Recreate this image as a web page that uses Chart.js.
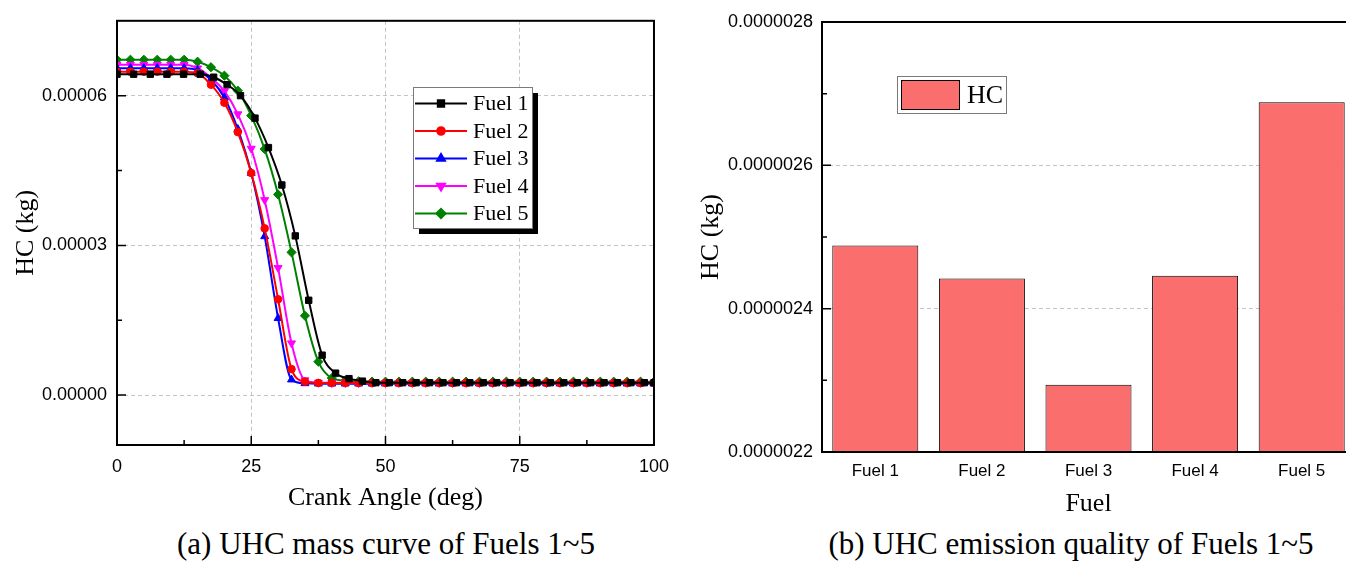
<!DOCTYPE html>
<html>
<head>
<meta charset="utf-8">
<script src="https://cdn.jsdelivr.net/npm/chart.js@4.4.1/dist/chart.umd.min.js"></script>
<style>
  html, body { margin: 0; padding: 0; background: #fff; overflow: hidden; }
  body { width: 1346px; height: 563px; position: relative; }
  .pie { position: absolute; top: 526px; font-family: "Liberation Serif", serif; font-size: 31px; color: #000; white-space: nowrap; transform: translateX(-50%); }
</style>
</head>
<body>
<canvas id="curvaHC" width="680" height="520" style="position:absolute;left:0;top:0"></canvas>
<canvas id="barrasHC" width="680" height="520" style="position:absolute;left:690px;top:0"></canvas>
<div class="pie" style="left:386px">(a) UHC mass curve of Fuels 1~5</div>
<div class="pie" style="left:1071px">(b) UHC emission quality of Fuels 1~5</div>

<script>
// Masa de HC (kg) vs angulo de cigueñal
var combustibles = ["Fuel 1", "Fuel 2", "Fuel 3", "Fuel 4", "Fuel 5"];

var angulo = [0, 2.5, 5, 7.5, 10, 12.5, 15, 17.5, 20, 22.5, 25, 27.5, 30, 32.5, 35, 37.5, 40, 42.5, 45, 47.5,
              50, 52.5, 55, 57.5, 60, 62.5, 65, 67.5, 70, 72.5, 75, 77.5, 80, 82.5, 85, 87.5, 90, 92.5, 95, 97.5, 100];
var anguloF1 = [0, 3.1, 6.2, 9.3, 12.4, 15.5, 18, 20.5, 23, 25.7, 28.2, 30.7, 33.2, 35.7, 38.2, 40.7, 43.2, 45.7,
                48.2, 50.7, 53.2, 55.7, 58.2, 60.7, 63.2, 65.7, 68.2, 70.7, 73.2, 75.7, 78.2, 80.7, 83.2, 85.7,
                88.2, 90.7, 93.2, 95.7, 98.2, 100];

var hcF1 = [6.43e-5, 6.43e-5, 6.43e-5, 6.43e-5, 6.43e-5, 6.43e-5, 6.37e-5, 6.22e-5, 6.00e-5, 5.55e-5, 4.96e-5,
            4.21e-5, 3.19e-5, 1.90e-5, 0.80e-5, 0.44e-5, 0.33e-5, 0.28e-5,
            2.49e-6, 2.49e-6, 2.49e-6, 2.49e-6, 2.49e-6, 2.49e-6, 2.49e-6, 2.49e-6, 2.49e-6, 2.49e-6, 2.49e-6,
            2.49e-6, 2.49e-6, 2.49e-6, 2.49e-6, 2.49e-6, 2.49e-6, 2.49e-6, 2.49e-6, 2.49e-6, 2.49e-6, 2.49e-6];
var hcF2 = [6.48e-5, 6.48e-5, 6.48e-5, 6.48e-5, 6.48e-5, 6.48e-5, 6.45e-5, 6.22e-5, 5.86e-5, 5.27e-5, 4.45e-5,
            3.34e-5, 1.92e-5, 0.52e-5, 0.27e-5,
            2.44e-6, 2.44e-6, 2.44e-6, 2.44e-6, 2.44e-6, 2.44e-6, 2.44e-6, 2.44e-6, 2.44e-6, 2.44e-6, 2.44e-6,
            2.44e-6, 2.44e-6, 2.44e-6, 2.44e-6, 2.44e-6, 2.44e-6, 2.44e-6, 2.44e-6, 2.44e-6, 2.44e-6, 2.44e-6,
            2.44e-6, 2.44e-6, 2.44e-6, 2.44e-6];
var hcF3 = [6.55e-5, 6.55e-5, 6.55e-5, 6.55e-5, 6.55e-5, 6.55e-5, 6.51e-5, 6.32e-5, 5.96e-5, 5.33e-5, 4.45e-5,
            3.18e-5, 1.54e-5, 0.31e-5, 2.35e-6,
            2.29e-6, 2.29e-6, 2.29e-6, 2.29e-6, 2.29e-6, 2.29e-6, 2.29e-6, 2.29e-6, 2.29e-6, 2.29e-6, 2.29e-6,
            2.29e-6, 2.29e-6, 2.29e-6, 2.29e-6, 2.29e-6, 2.29e-6, 2.29e-6, 2.29e-6, 2.29e-6, 2.29e-6, 2.29e-6,
            2.29e-6, 2.29e-6, 2.29e-6, 2.29e-6];
var hcF4 = [6.62e-5, 6.62e-5, 6.62e-5, 6.62e-5, 6.62e-5, 6.62e-5, 6.55e-5, 6.36e-5, 6.09e-5, 5.63e-5, 4.94e-5,
            3.91e-5, 2.55e-5, 1.04e-5, 0.30e-5, 2.50e-6,
            2.45e-6, 2.45e-6, 2.45e-6, 2.45e-6, 2.45e-6, 2.45e-6, 2.45e-6, 2.45e-6, 2.45e-6, 2.45e-6,
            2.45e-6, 2.45e-6, 2.45e-6, 2.45e-6, 2.45e-6, 2.45e-6, 2.45e-6, 2.45e-6, 2.45e-6, 2.45e-6, 2.45e-6,
            2.45e-6, 2.45e-6, 2.45e-6, 2.45e-6];
var hcF5 = [6.72e-5, 6.72e-5, 6.72e-5, 6.72e-5, 6.72e-5, 6.72e-5, 6.68e-5, 6.57e-5, 6.40e-5, 6.10e-5, 5.60e-5,
            4.93e-5, 4.02e-5, 2.86e-5, 1.59e-5, 0.67e-5, 0.34e-5, 0.29e-5, 2.75e-6,
            2.69e-6, 2.69e-6, 2.69e-6, 2.69e-6, 2.69e-6, 2.69e-6, 2.69e-6, 2.69e-6, 2.69e-6, 2.69e-6, 2.69e-6,
            2.69e-6, 2.69e-6, 2.69e-6, 2.69e-6, 2.69e-6, 2.69e-6, 2.69e-6, 2.69e-6, 2.69e-6, 2.69e-6, 2.69e-6,
            2.69e-6];

// Emision total de HC por combustible
var hcTotal = [2.488e-6, 2.442e-6, 2.294e-6, 2.446e-6, 2.688e-6];

// Marcas de los ejes
var ticksAnguloX = [0, 25, 50, 75, 100];
var menoresAnguloX = [12.5, 37.5, 62.5, 87.5];
var ticksCurvaY = [0, 0.00003, 0.00006];
var menoresCurvaY = [0.000015, 0.000045];
var ticksBarraY = [0.0000022, 0.0000024, 0.0000026, 0.0000028];
var menoresBarraY = [0.0000023, 0.0000025, 0.0000027];

var colores = ["#000000", "#ff0000", "#0000ff", "#ff00ff", "#008000"];
var estilos = ["rect", "circle", "triangle", "triangle", "rectRot"];
var giros = [0, 0, 0, 180, 0];
var radios = [4.5, 3.8, 4.6, 4.6, 4.6];

var serif = '"Liberation Serif", "Times New Roman", serif';
var sans = '"Liberation Sans", Arial, sans-serif';

// Marcas hacia adentro y marco del grafico
var marcoEjes = {
  id: 'marcoEjes',
  afterDatasetsDraw: function(chart, args, opts) {
    var ctx = chart.ctx, a = chart.chartArea;
    var sy = chart.scales.y, sx = chart.scales.x;
    ctx.save();
    ctx.strokeStyle = '#000';
    ctx.lineWidth = 1.5;
    ctx.beginPath();
    (opts.mayorY || []).forEach(function(v) {
      var y = sy.getPixelForValue(v);
      ctx.moveTo(a.left, y); ctx.lineTo(a.left + 9, y);
    });
    (opts.menorY || []).forEach(function(v) {
      var y = sy.getPixelForValue(v);
      ctx.moveTo(a.left, y); ctx.lineTo(a.left + 5, y);
    });
    (opts.mayorX || []).forEach(function(v) {
      var x = sx.getPixelForValue(v);
      ctx.moveTo(x, a.bottom); ctx.lineTo(x, a.bottom - 9);
    });
    (opts.menorX || []).forEach(function(v) {
      var x = sx.getPixelForValue(v);
      ctx.moveTo(x, a.bottom); ctx.lineTo(x, a.bottom - 5);
    });
    ctx.stroke();
    ctx.lineWidth = 2;
    ctx.strokeRect(a.left, a.top, a.right - a.left, a.bottom - a.top);
    ctx.restore();
  }
};

// Leyenda con sombra para las curvas
var leyendaCurvas = {
  id: 'leyendaCurvas',
  afterDraw: function(chart) {
    var ctx = chart.ctx;
    var x0 = 413, y0 = 87, w = 119, h = 141;
    ctx.save();
    ctx.fillStyle = '#000';
    ctx.fillRect(x0 + 6, y0 + 6, w, h);
    ctx.fillStyle = '#fff';
    ctx.fillRect(x0, y0, w, h);
    ctx.strokeStyle = '#7a7a7a';
    ctx.lineWidth = 1;
    ctx.strokeRect(x0 + 0.5, y0 + 0.5, w, h);
    chart.data.datasets.forEach(function(ds, i) {
      var y = y0 + 16.5 + i * 27.5;
      ctx.strokeStyle = ds.borderColor;
      ctx.lineWidth = 2;
      ctx.beginPath();
      ctx.moveTo(x0 + 2, y); ctx.lineTo(x0 + 54, y);
      ctx.stroke();
      ctx.fillStyle = ds.borderColor;
      Chart.helpers.drawPoint(ctx, { pointStyle: ds.pointStyle, radius: ds.pointRadius, rotation: ds.pointRotation, borderWidth: 1 }, x0 + 28, y);
      ctx.fillStyle = '#000';
      ctx.font = '22px ' + serif;
      ctx.textBaseline = 'middle';
      ctx.textAlign = 'left';
      ctx.fillText(ds.label, x0 + 60, y + 1);
    });
    ctx.restore();
  }
};

// Leyenda de las barras
var leyendaBarras = {
  id: 'leyendaBarras',
  afterDraw: function(chart) {
    var ctx = chart.ctx;
    var x0 = 897 - 690, y0 = 76, w = 109, h = 37;
    ctx.save();
    ctx.fillStyle = '#fff';
    ctx.fillRect(x0, y0, w, h);
    ctx.strokeStyle = '#7a7a7a';
    ctx.lineWidth = 1;
    ctx.strokeRect(x0 + 0.5, y0 + 0.5, w, h);
    ctx.fillStyle = chart.data.datasets[0].backgroundColor;
    ctx.fillRect(x0 + 4, y0 + 4, 58, 29);
    ctx.strokeStyle = '#000';
    ctx.strokeRect(x0 + 4.5, y0 + 4.5, 58, 29);
    ctx.fillStyle = '#000';
    ctx.font = '26px ' + serif;
    ctx.textBaseline = 'middle';
    ctx.fillText(chart.data.datasets[0].label, x0 + 70, y0 + 20);
    ctx.restore();
  }
};

var datasets = [];
var series = [hcF1, hcF2, hcF3, hcF4, hcF5];
for (var i = 0; i < series.length; i++) {
  var xs = (i == 0) ? anguloF1 : angulo;
  var puntos = [];
  for (var k = 0; k < series[i].length; k++) {
    puntos.push({ x: xs[k], y: series[i][k] });
  }
  datasets.push({
    label: combustibles[i],
    data: puntos,
    borderColor: colores[i],
    backgroundColor: colores[i],
    pointBackgroundColor: colores[i],
    pointBorderColor: colores[i],
    pointStyle: estilos[i],
    pointRotation: giros[i],
    pointRadius: radios[i],
    pointBorderWidth: 1,
    borderWidth: 2,
    cubicInterpolationMode: 'monotone'
  });
}

var configCurva = {
  type: 'line',
  data: { datasets: datasets },
  options: {
    responsive: false,
    animation: false,
    layout: { padding: { left: 0, top: 16, right: 25, bottom: 0 } },
    plugins: {
      legend: { display: false },
      tooltip: { enabled: false },
      marcoEjes: { mayorY: ticksCurvaY, menorY: menoresCurvaY, mayorX: ticksAnguloX, menorX: menoresAnguloX }
    },
    scales: {
      x: {
        type: 'linear', min: 0, max: 100,
        afterBuildTicks: function(s) { s.ticks = ticksAnguloX.map(function(v) { return { value: v }; }); },
        afterFit: function(s) { s.height = 75; },
        grid: { color: '#c4c4c4', lineWidth: 1, drawTicks: false },
        border: { display: false, dash: [4, 3] },
        ticks: { padding: 11, color: '#000', font: { family: sans, size: 18 }, maxRotation: 0 },
        title: { display: true, text: 'Crank Angle (deg)', color: '#000', font: { family: serif, size: 26 }, padding: { top: 0, bottom: 6 } }
      },
      y: {
        min: -0.00001, max: 0.000075,
        afterBuildTicks: function(s) { s.ticks = ticksCurvaY.map(function(v) { return { value: v }; }); },
        afterFit: function(s) { s.width = 117; },
        grid: { color: '#c4c4c4', lineWidth: 1, drawTicks: false },
        border: { display: false, dash: [4, 3] },
        ticks: { padding: 10, color: '#000', font: { family: sans, size: 18 }, callback: function(v) { return v.toFixed(5); } },
        title: { display: true, text: 'HC (kg)', color: '#000', font: { family: serif, size: 26 }, padding: { top: 11, bottom: 0 } }
      }
    }
  },
  plugins: [marcoEjes, leyendaCurvas]
};
window.curva = new Chart(document.getElementById("curvaHC"), configCurva);

var configBarras = {
  type: 'bar',
  data: {
    labels: combustibles,
    datasets: [{
      label: 'HC',
      data: hcTotal,
      backgroundColor: '#fb6e6e',
      borderColor: '#000000',
      borderWidth: 1,
      barPercentage: 0.807,
      categoryPercentage: 1
    }]
  },
  options: {
    responsive: false,
    animation: false,
    layout: { padding: { left: 0, top: 22, right: 15, bottom: 0 } },
    plugins: {
      legend: { display: false },
      tooltip: { enabled: false },
      marcoEjes: { mayorY: ticksBarraY, menorY: menoresBarraY }
    },
    scales: {
      x: {
        afterFit: function(s) { s.height = 68; },
        grid: { display: false, drawTicks: false },
        border: { display: false },
        ticks: { padding: 9, color: '#000', font: { family: sans, size: 17 } },
        title: { display: true, text: 'Fuel', color: '#000', font: { family: serif, size: 26 }, padding: { top: 0, bottom: 0 } }
      },
      y: {
        min: 0.0000022, max: 0.0000028,
        afterBuildTicks: function(s) { s.ticks = ticksBarraY.map(function(v) { return { value: v }; }); },
        afterFit: function(s) { s.width = 132; },
        grid: { color: '#c4c4c4', lineWidth: 1, drawTicks: false },
        border: { display: false, dash: [4, 3] },
        ticks: { padding: 9, color: '#000', font: { family: sans, size: 18 }, callback: function(v) { return v.toFixed(7); } },
        title: { display: true, text: 'HC (kg)', color: '#000', font: { family: serif, size: 26 }, padding: { top: 6, bottom: 0 } }
      }
    }
  },
  plugins: [marcoEjes, leyendaBarras]
};
window.barras = new Chart(document.getElementById("barrasHC"), configBarras);
</script>
</body>
</html>
